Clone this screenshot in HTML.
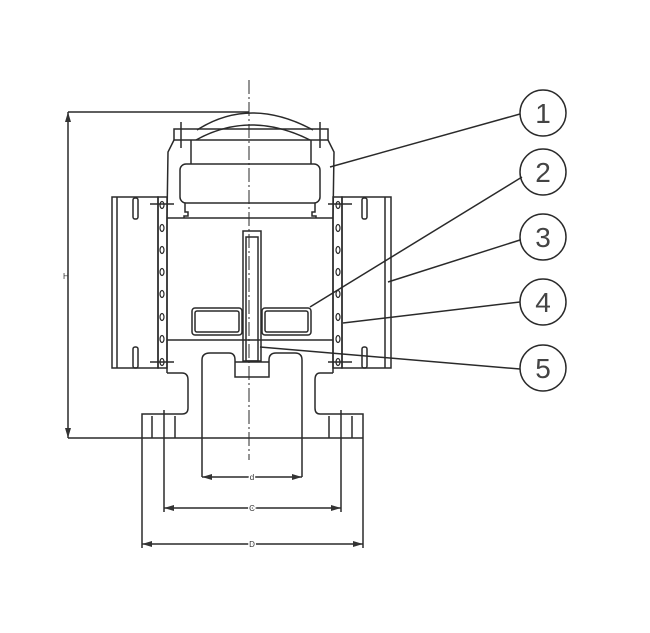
<!DOCTYPE html>
<html><head><meta charset="utf-8"><style>html,body{margin:0;padding:0;background:#fff}svg{display:block}</style></head>
<body>
<svg width="650" height="633" viewBox="0 0 650 633" xmlns="http://www.w3.org/2000/svg" fill="none" stroke="#2a2a2a" stroke-width="1.5" font-family="Liberation Sans, sans-serif">
<defs><marker id="a" markerWidth="10" markerHeight="6" refX="10" refY="3" orient="auto-start-reverse" markerUnits="userSpaceOnUse"><path d="M0,0 L10,3 L0,6 Z" fill="#333" stroke="none"/></marker></defs>
<line x1="249" y1="80" x2="249" y2="460" stroke-dasharray="14,3,2,3" stroke-width="1"/>
<line x1="68" y1="112" x2="249" y2="112"/>
<line x1="68" y1="112" x2="68" y2="438" marker-start="url(#a)" marker-end="url(#a)"/>
<text x="63" y="279" font-size="8" fill="#333" stroke="none">H</text>
<path d="M197,130 Q250,96 313,130"/>
<path d="M196,140 Q250,110 310,140"/>
<rect x="174" y="129" width="154" height="11"/>
<line x1="181" y1="122" x2="181" y2="148"/><line x1="320" y1="122" x2="320" y2="148"/>
<path d="M174,140 L168,152 L167,218 M328,140 L334,152 L333,218"/>
<line x1="191" y1="140" x2="191" y2="164"/><line x1="311" y1="140" x2="311" y2="164"/>
<rect x="180" y="164" width="140" height="39" rx="6"/>
<path d="M185,203 V212 h3 v4 h-4 v2 M315,203 V212 h-3 v4 h4 v2"/>
<line x1="167" y1="218" x2="333" y2="218"/>
<rect x="112" y="197" width="46" height="171"/><line x1="117" y1="197" x2="117" y2="368"/>
<rect x="158" y="197" width="9" height="171"/>
<rect x="333" y="197" width="9" height="171"/>
<rect x="342" y="197" width="49" height="171"/><line x1="385" y1="197" x2="385" y2="368"/>
<rect x="133" y="198" width="5" height="21" rx="2"/><rect x="133" y="347" width="5" height="21" rx="2"/>
<rect x="362" y="198" width="5" height="21" rx="2"/><rect x="362" y="347" width="5" height="21" rx="2"/>
<g stroke-width="1.2">
<ellipse cx="162" cy="205" rx="2" ry="3.5"/><ellipse cx="162" cy="228" rx="2" ry="3.5"/><ellipse cx="162" cy="250" rx="2" ry="3.5"/><ellipse cx="162" cy="272" rx="2" ry="3.5"/><ellipse cx="162" cy="294" rx="2" ry="3.5"/><ellipse cx="162" cy="317" rx="2" ry="3.5"/><ellipse cx="162" cy="339" rx="2" ry="3.5"/><ellipse cx="162" cy="362" rx="2" ry="3.5"/>
<ellipse cx="338" cy="205" rx="2" ry="3.5"/><ellipse cx="338" cy="228" rx="2" ry="3.5"/><ellipse cx="338" cy="250" rx="2" ry="3.5"/><ellipse cx="338" cy="272" rx="2" ry="3.5"/><ellipse cx="338" cy="294" rx="2" ry="3.5"/><ellipse cx="338" cy="317" rx="2" ry="3.5"/><ellipse cx="338" cy="339" rx="2" ry="3.5"/><ellipse cx="338" cy="362" rx="2" ry="3.5"/>
</g>
<line x1="150" y1="204" x2="174" y2="204"/><line x1="150" y1="362" x2="174" y2="362"/>
<line x1="328" y1="204" x2="352" y2="204"/><line x1="328" y1="362" x2="352" y2="362"/>
<line x1="167" y1="218" x2="167" y2="373"/><line x1="333" y1="218" x2="333" y2="373"/>
<line x1="167" y1="340" x2="333" y2="340"/>
<rect x="243" y="231" width="18" height="130"/><rect x="246" y="237" width="12" height="124"/>
<rect x="192" y="308" width="50" height="27" rx="3"/><rect x="195" y="311" width="44" height="21" rx="2"/>
<rect x="262" y="308" width="49" height="27" rx="3"/><rect x="265" y="311" width="43" height="21" rx="2"/>
<path d="M167,373 H182 Q188,373 188,380 V408 Q188,414 182,414 H142 V438"/>
<path d="M333,373 H320 Q315,373 315,380 V408 Q315,414 320,414 H363 V438"/>
<path d="M202,477 V360 Q202,353 210,353 H229 Q235,353 235,360 V377 H269 V360 Q269,353 276,353 H295 Q302,353 302,360 V477"/>
<line x1="235" y1="362" x2="269" y2="362"/>
<line x1="68" y1="438" x2="363" y2="438"/>
<line x1="152" y1="416" x2="152" y2="438"/><line x1="175" y1="416" x2="175" y2="438"/>
<line x1="329" y1="416" x2="329" y2="438"/><line x1="352" y1="416" x2="352" y2="438"/>
<line x1="164" y1="410" x2="164" y2="512"/><line x1="341" y1="410" x2="341" y2="512"/>
<line x1="142" y1="438" x2="142" y2="548"/><line x1="363" y1="438" x2="363" y2="548"/>
<line x1="202" y1="477" x2="302" y2="477" marker-start="url(#a)" marker-end="url(#a)"/>
<line x1="164" y1="508" x2="341" y2="508" marker-start="url(#a)" marker-end="url(#a)"/>
<line x1="142" y1="544" x2="363" y2="544" marker-start="url(#a)" marker-end="url(#a)"/>
<g font-size="8" fill="#333" stroke="none" text-anchor="middle"><text x="252" y="480" style="paint-order:stroke" stroke="#fff" stroke-width="3">d</text><text x="252" y="511" stroke="#fff" stroke-width="3" style="paint-order:stroke">C</text><text x="252" y="547" stroke="#fff" stroke-width="3" style="paint-order:stroke">D</text></g>
<line x1="330" y1="167" x2="520" y2="114"/>
<line x1="310" y1="307" x2="522" y2="177"/>
<line x1="388" y1="282" x2="520" y2="240"/>
<line x1="343" y1="323" x2="520" y2="302"/>
<line x1="260" y1="347" x2="520" y2="369"/>
<g><circle cx="543" cy="113" r="23"/><circle cx="543" cy="172" r="23"/><circle cx="543" cy="237" r="23"/><circle cx="543" cy="302" r="23"/><circle cx="543" cy="368" r="23"/></g>
<g font-size="28" fill="#444" stroke="none" text-anchor="middle"><text x="543" y="123">1</text><text x="543" y="182">2</text><text x="543" y="247">3</text><text x="543" y="312">4</text><text x="543" y="378">5</text></g>
</svg>
</body></html>
